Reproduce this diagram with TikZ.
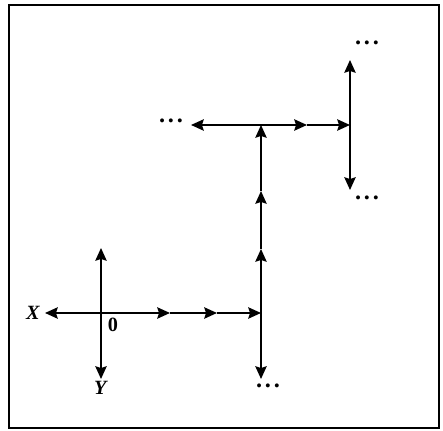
\documentclass[tikz,border=0pt]{standalone}
\usepackage{fontspec}
\setmainfont{Liberation Serif}
\usetikzlibrary{arrows.meta}
\tikzset{
  ax/.style={line width=1.4pt, -{Stealth[length=9pt,width=8pt,inset=1.2pt]}},
  dots/.style={font=\LARGE\bfseries, inner sep=1pt},
  lbl/.style={font=\Large, inner sep=1pt}
}
\newcommand{\threedots}{.\hspace{2pt}.\hspace{2pt}.}
\begin{document}
\begin{tikzpicture}[x=0.025cm,y=-0.025cm]
  \useasboundingbox (0,0) rectangle (443,431);
  \draw[line width=1.3pt] (9,5) rectangle (439,428);
  \coordinate (o) at (101,313);
  \coordinate (xl) at (45,313);
  \coordinate (yu) at (101,248);
  \coordinate (yd) at (101,379);
  \coordinate (h1) at (170,313);
  \coordinate (h2) at (217,313);
  \coordinate (c) at (261,313);
  \coordinate (cd) at (261,379);
  \coordinate (v1) at (261,249);
  \coordinate (v2) at (261,191);
  \coordinate (t) at (261,125);
  \coordinate (tl) at (191,125);
  \coordinate (t1) at (307,125);
  \coordinate (r) at (350,125);
  \coordinate (ru) at (350,60);
  \coordinate (rd) at (350,190);
  \node[lbl] (xname) at (33,313) {\textit{\textbf{X}}};
  \node[lbl] (yname) at (101,388) {\textit{\textbf{Y}}};
  \node[lbl] (zero) at (113,325) {\textbf{0}};
  \node[dots] (dotsb) at (268,386) {\threedots};
  \node[dots] (dotsl) at (171,121) {\threedots};
  \node[dots] (dotsu) at (367,43) {\threedots};
  \node[dots] (dotsd) at (367,198) {\threedots};
  \draw[ax] (o) -- (xl);
  \draw[ax] (o) -- (yu);
  \draw[ax] (o) -- (yd);
  \draw[ax] (o) -- (h1);
  \draw[ax] (h1) -- (h2);
  \draw[ax] (h2) -- (c);
  \draw[ax] (c) -- (cd);
  \draw[ax] (c) -- (v1);
  \draw[ax] (v1) -- (v2);
  \draw[ax] (v2) -- (t);
  \draw[ax] (t) -- (tl);
  \draw[ax] (t) -- (t1);
  \draw[ax] (t1) -- (r);
  \draw[ax] (r) -- (ru);
  \draw[ax] (r) -- (rd);
\end{tikzpicture}
\end{document}
